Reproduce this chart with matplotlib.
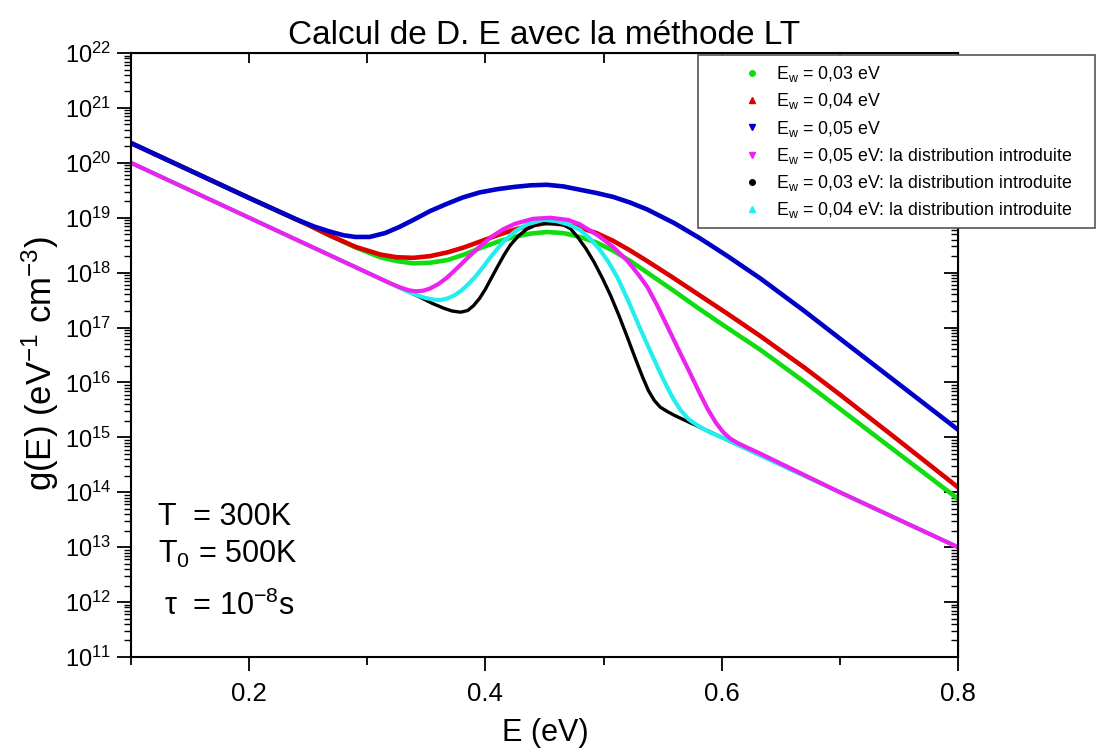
import numpy as np
import matplotlib.pyplot as plt
from matplotlib.lines import Line2D
from matplotlib.patches import Rectangle
from matplotlib.ticker import LogLocator, MultipleLocator, NullFormatter

plt.rcParams['font.family'] = ['Liberation Sans', 'DejaVu Sans']
plt.rcParams['mathtext.fontset'] = 'custom'
plt.rcParams['mathtext.rm'] = 'Liberation Sans'
plt.rcParams['mathtext.it'] = 'Liberation Sans:italic'
plt.rcParams['mathtext.default'] = 'regular'

# valeurs : E en eV, log10 de g(E) en eV^-1 cm^-3
E_003 = [0.10, 0.20, 0.25, 0.268, 0.29, 0.311, 0.325, 0.339, 0.353, 0.368, 0.382, 0.396,
         0.41, 0.424, 0.438, 0.452, 0.466, 0.48, 0.494, 0.508, 0.522, 0.537, 0.558, 0.579,
         0.605, 0.633, 0.67, 0.70, 0.75, 0.80]
lg_003 = [20.36, 19.36, 18.87, 18.68, 18.46, 18.28, 18.21, 18.17, 18.18, 18.23, 18.33, 18.45,
          18.56, 18.65, 18.71, 18.74, 18.72, 18.65, 18.55, 18.40, 18.22, 18.00, 17.69, 17.37,
          16.99, 16.59, 16.01, 15.52, 14.70, 13.88]

E_004 = E_003
lg_004 = [20.36, 19.36, 18.87, 18.68, 18.47, 18.33, 18.28, 18.27, 18.30, 18.37, 18.46, 18.57,
          18.68, 18.78, 18.86, 18.90, 18.88, 18.82, 18.72, 18.58, 18.41, 18.21, 17.92, 17.62,
          17.25, 16.84, 16.27, 15.78, 14.94, 14.09]

E_005 = [0.10, 0.20, 0.24, 0.255, 0.268, 0.28, 0.29, 0.302, 0.315, 0.327, 0.339, 0.353,
         0.367, 0.381, 0.395, 0.41, 0.424, 0.438, 0.452, 0.466, 0.48, 0.494, 0.508, 0.522,
         0.537, 0.56, 0.582, 0.605, 0.633, 0.67, 0.70, 0.75, 0.80]
lg_005 = [20.36, 19.36, 18.97, 18.84, 18.75, 18.68, 18.65, 18.65, 18.72, 18.83, 18.96, 19.12,
          19.25, 19.37, 19.46, 19.52, 19.56, 19.59, 19.60, 19.57, 19.51, 19.45, 19.38, 19.28,
          19.15, 18.90, 18.62, 18.30, 17.89, 17.30, 16.80, 15.97, 15.14]

E_d003 = [0.10, 0.20, 0.30, 0.345, 0.355, 0.365, 0.372, 0.379, 0.385, 0.39, 0.395, 0.40,
          0.405, 0.41, 0.416, 0.421, 0.428, 0.435, 0.442, 0.449, 0.457, 0.466, 0.472, 0.478,
          0.485, 0.492, 0.499, 0.506, 0.513, 0.520, 0.527, 0.533, 0.538, 0.543, 0.548, 0.554,
          0.56, 0.70, 0.80]
lg_d003 = [20.0, 19.0, 18.0, 17.55, 17.44, 17.35, 17.30, 17.28, 17.31, 17.40, 17.53, 17.70,
           17.90, 18.10, 18.33, 18.50, 18.67, 18.79, 18.86, 18.90, 18.90, 18.87, 18.80, 18.65,
           18.44, 18.19, 17.90, 17.58, 17.22, 16.83, 16.43, 16.10, 15.85, 15.67, 15.55, 15.47,
           15.40, 14.0, 13.0]

E_d004 = [0.10, 0.20, 0.30, 0.335, 0.342, 0.349, 0.356, 0.362, 0.368, 0.374, 0.38, 0.386,
          0.392, 0.398, 0.405, 0.415, 0.425, 0.435, 0.449, 0.46, 0.47, 0.48, 0.488, 0.496,
          0.504, 0.512, 0.521, 0.531, 0.541, 0.55, 0.558, 0.565, 0.572, 0.58, 0.59, 0.60,
          0.70, 0.80]
lg_d004 = [20.0, 19.0, 18.0, 17.65, 17.59, 17.54, 17.51, 17.50, 17.53, 17.59, 17.68, 17.80,
           17.94, 18.10, 18.30, 18.56, 18.75, 18.88, 18.96, 18.94, 18.88, 18.78, 18.63, 18.44,
           18.20, 17.90, 17.48, 16.98, 16.50, 16.08, 15.74, 15.50, 15.33, 15.21, 15.09, 15.0,
           14.0, 13.0]

E_d005 = [0.10, 0.20, 0.30, 0.32, 0.328, 0.335, 0.341, 0.347, 0.353, 0.36, 0.367, 0.375,
          0.385, 0.395, 0.405, 0.415, 0.425, 0.44, 0.455, 0.47, 0.48, 0.495, 0.508, 0.52,
          0.53, 0.537, 0.545, 0.556, 0.565, 0.573, 0.581, 0.588, 0.595, 0.601, 0.607, 0.614,
          0.622, 0.633, 0.70, 0.80]
lg_d005 = [20.0, 19.0, 18.0, 17.80, 17.73, 17.68, 17.66, 17.67, 17.71, 17.79, 17.90, 18.06,
           18.27, 18.47, 18.65, 18.79, 18.89, 18.98, 19.00, 18.96, 18.88, 18.68, 18.47, 18.22,
           17.95, 17.74, 17.42, 16.93, 16.53, 16.18, 15.82, 15.52, 15.27, 15.10, 14.98, 14.89,
           14.81, 14.70, 14.0, 13.0]

labels = ['E$_w$ = 0,03 eV', 'E$_w$ = 0,04 eV', 'E$_w$ = 0,05 eV',
          'E$_w$ = 0,05 eV: la distribution introduite',
          'E$_w$ = 0,03 eV: la distribution introduite',
          'E$_w$ = 0,04 eV: la distribution introduite']
colors = ['#10dd10', '#dd0000', '#0000c8', '#ee22ee', '#000000', '#22eeee']
markers = ['o', '^', 'v', 'v', 'o', '^']

fig = plt.figure(figsize=(10.97, 7.54), dpi=100)
W, H = 1097.0, 754.0
ax = fig.add_axes([131 / W, 1 - 657 / H, 827 / W, 604 / H])
ax.set_yscale('log')

# ordre de trace : les courbes "distribution introduite" par-dessus
ax.plot(E_003, 10.0 ** np.array(lg_003), color=colors[0], lw=3.3, solid_joinstyle='round')
ax.plot(E_004, 10.0 ** np.array(lg_004), color=colors[1], lw=3.3, solid_joinstyle='round')
ax.plot(E_005, 10.0 ** np.array(lg_005), color=colors[2], lw=3.3, solid_joinstyle='round')
ax.plot(E_d003, 10.0 ** np.array(lg_d003), color=colors[4], lw=2.4, solid_joinstyle='round')
ax.plot(E_d004, 10.0 ** np.array(lg_d004), color=colors[5], lw=3.0, solid_joinstyle='round')
ax.plot(E_d005, 10.0 ** np.array(lg_d005), color=colors[3], lw=3.0, solid_joinstyle='round')

ax.set_xlim(0.1, 0.8)
ax.set_ylim(1e11, 1e22)

ax.xaxis.set_major_locator(MultipleLocator(0.2))
ax.xaxis.set_minor_locator(MultipleLocator(0.1))
ax.yaxis.set_major_locator(LogLocator(base=10, numticks=30))
ax.yaxis.set_minor_locator(LogLocator(base=10, subs=np.arange(2, 10), numticks=30))
ax.yaxis.set_minor_formatter(NullFormatter())
ax.tick_params(axis='x', which='major', direction='out', length=10, width=1.3, labelsize=18.5, pad=8)
ax.tick_params(axis='x', which='minor', direction='out', length=6, width=1.3)
ax.tick_params(axis='y', which='major', direction='out', length=10, width=1.3, labelsize=17, pad=4)
ax.tick_params(axis='y', which='minor', direction='out', length=5, width=1.0)
for s in ax.spines.values():
    s.set_linewidth(1.5)

top = ax.secondary_xaxis('top')
top.xaxis.set_major_locator(MultipleLocator(0.1))
top.xaxis.set_major_formatter(NullFormatter())
top.tick_params(direction='in', length=7, width=1.3)
right = ax.secondary_yaxis('right')
right.yaxis.set_major_locator(LogLocator(base=10, numticks=30))
right.yaxis.set_minor_locator(LogLocator(base=10, subs=np.arange(2, 10), numticks=30))
right.yaxis.set_major_formatter(NullFormatter())
right.yaxis.set_minor_formatter(NullFormatter())
right.tick_params(which='major', direction='in', length=10, width=1.3)
right.tick_params(which='minor', direction='in', length=5, width=1.0)

fig.text(544 / W, 1 - 44 / H, 'Calcul de D. E avec la méthode LT', ha='center', va='baseline', fontsize=24)
fig.text(545 / W, 1 - 741 / H, 'E (eV)', ha='center', va='baseline', fontsize=22)
fig.text(40 / W, 1 - 364 / H, 'g(E) (eV$^{-1}$ cm$^{-3}$)', ha='center', va='center',
         rotation=90, fontsize=25)

fig.text(158 / W, 1 - 525 / H, 'T  = 300K', fontsize=22, va='baseline')
fig.text(158 / W, 1 - 563 / H, 'T$_0$ = 500K', fontsize=22, va='baseline')
fig.text(164 / W, 1 - 615 / H, 'τ  = 10$^{-8}$s', fontsize=22, va='baseline')

# cadre de la legende, qui deborde de la zone de trace
box = Rectangle((698 / W, 1 - 228 / H), 397 / W, 173 / H, transform=fig.transFigure,
                facecolor='white', edgecolor='#555555', lw=1.2, zorder=3)
fig.add_artist(box)
handles = [Line2D([], [], ls='none', marker=m, color=c, ms=4) for m, c in zip(markers, colors)]
fig.legend(handles, labels, loc='upper left', bbox_to_anchor=(741 / W, 1 - 64 / H),
           bbox_transform=fig.transFigure, frameon=False, fontsize=12.8, handlelength=1.2,
           handletextpad=0.75, labelspacing=0.41, borderpad=0, borderaxespad=0)

fig.savefig('out.png', dpi=100)
